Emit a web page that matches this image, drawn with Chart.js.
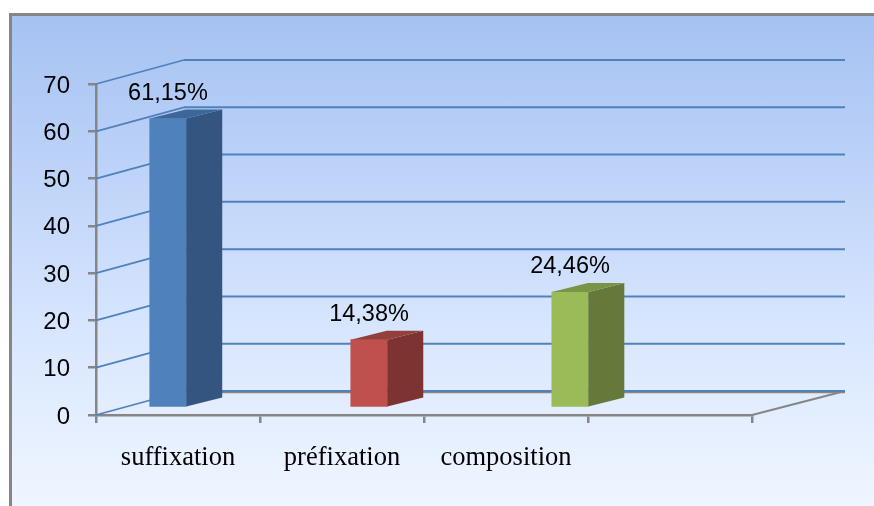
<!DOCTYPE html>
<html lang="fr">
<head>
<meta charset="utf-8">
<title>Formation des mots</title>
<style>
  html, body { margin: 0; padding: 0; background: #fff; }
  #panel {
    position: absolute; left: 9px; top: 13px; width: 865px; height: 493px;
    box-sizing: border-box;
    border-left: 3px solid #868686; border-top: 3px solid #868686;
    background: linear-gradient(180deg, #A6C2F2 0%, #BCD2F8 30%, #D6E5FE 62%, #F0F6FF 100%);
  }
  #stage { position: absolute; left: 0; top: 0; width: 874px; height: 506px; }
</style>
<script src="https://cdn.jsdelivr.net/npm/chart.js@4/dist/chart.umd.min.js"></script>
</head>
<body>
<div id="panel"></div>
<div id="stage"><canvas id="chart" width="874" height="506"></canvas></div>
<script>
// Word-formation shares, in percent
const categories = ['suffixation', 'préfixation', 'composition', ''];
const shares = [61.15, 14.38, 24.46];

const frontColors = ['#4F81BD', '#C0504D', '#9BBB59'];
const sideColors = ['#335580', '#7D3331', '#65793A'];
const topColors = ['#3D6798', '#933F3C', '#7A9447'];

const GRID_BLUE = '#4F81BD';
const AXIS_GREY = '#868686';

// Oblique projection of the chart box
const WALL_DX = 88;
const WALL_DY = 24;
const WALL_RIGHT_DX = 93;
const BAR_DX = 36;
const BAR_DY = 9;
const BAR_LIFT = 7.3;

const formatShare = v => v.toFixed(2).replace('.', ',') + '%';

const line = (ctx, x0, y0, x1, y1, color, width) => {
  ctx.strokeStyle = color;
  ctx.lineWidth = width;
  ctx.beginPath();
  ctx.moveTo(x0, y0);
  ctx.lineTo(x1, y1);
  ctx.stroke();
};

const face = (ctx, pts, color) => {
  ctx.fillStyle = color;
  ctx.beginPath();
  pts.forEach(([x, y], i) => (i ? ctx.lineTo(x, y) : ctx.moveTo(x, y)));
  ctx.closePath();
  ctx.fill();
};

// Back wall, side wall and floor edges, tied to the value scale
const wallPlugin = {
  id: 'walls',
  beforeDatasetsDraw(chart) {
    const { ctx, chartArea: a, scales: { y } } = chart;
    ctx.save();
    const backRight = a.right + WALL_RIGHT_DX;
    const floorY = y.getPixelForValue(0);
    line(ctx, a.right, floorY, backRight, floorY - WALL_DY, AXIS_GREY, 2.2);
    line(ctx, a.left + WALL_DX, floorY - WALL_DY + 1.5, backRight, floorY - WALL_DY + 1.5, AXIS_GREY, 1.5);
    y.ticks.forEach(t => {
      const py = y.getPixelForValue(t.value);
      line(ctx, a.left, py, a.left + WALL_DX, py - WALL_DY, GRID_BLUE, 1.8);
      line(ctx, a.left + WALL_DX, py - WALL_DY, backRight, py - WALL_DY, GRID_BLUE, 2);
    });
    ctx.restore();
    // Bars stand a little inside the floor
    ctx.save();
    ctx.translate(0, -BAR_LIFT);
  },
  afterDatasetsDraw(chart) {
    const { ctx } = chart;
    const bars = chart.getDatasetMeta(0).data;
    bars.forEach((bar, i) => {
      const { x, y, base, width } = bar.getProps(['x', 'y', 'base', 'width'], true);
      const l = x - width / 2, r = x + width / 2;
      face(ctx, [[r, y], [r + BAR_DX, y - BAR_DY], [r + BAR_DX, base - BAR_DY], [r, base]], sideColors[i]);
      face(ctx, [[l, y], [l + BAR_DX, y - BAR_DY], [r + BAR_DX, y - BAR_DY], [r, y]], topColors[i]);
    });
    ctx.restore();
    // Value captions above each front face
    ctx.save();
    ctx.font = '23.5px "Liberation Sans", Arial, sans-serif';
    ctx.fillStyle = '#000';
    ctx.textAlign = 'center';
    ctx.textBaseline = 'middle';
    bars.forEach((bar, i) => {
      const { x, y } = bar.getProps(['x', 'y'], true);
      ctx.fillText(formatShare(shares[i]), x, y - BAR_LIFT - 25.5);
    });
    ctx.restore();
  }
};

new Chart(document.getElementById('chart'), {
  type: 'bar',
  data: {
    labels: categories,
    datasets: [{
      data: shares.map((v, i) => ({ x: i, y: v })),
      xAxisID: 'xBars',
      yAxisID: 'y',
      backgroundColor: frontColors,
      borderWidth: 0,
      barThickness: 36.5
    }]
  },
  options: {
    responsive: false,
    animation: false,
    layout: { padding: { left: 0, right: 122, top: 84, bottom: 0 } },
    plugins: { legend: { display: false }, tooltip: { enabled: false } },
    scales: {
      // Bar positions run on their own hidden scale
      xBars: { type: 'linear', display: false, offset: false, min: -0.358, max: 2.905 },
      x: {
        type: 'category',
        labels: categories,
        offset: true,
        afterFit: s => { s.height = 91; },
        border: { display: true, color: AXIS_GREY, width: 2.5 },
        grid: { offset: true, drawOnChartArea: false, color: AXIS_GREY, lineWidth: 2.5, tickLength: 8 },
        ticks: {
          autoSkip: false, maxRotation: 0, padding: 19, color: '#000',
          font: { family: '"Liberation Serif", "Times New Roman", serif', size: 26.5 }
        }
      },
      y: {
        type: 'linear',
        min: 0,
        max: 70,
        afterFit: s => { s.width = 96; },
        border: { display: true, color: AXIS_GREY, width: 2.5 },
        grid: { drawOnChartArea: false, color: AXIS_GREY, lineWidth: 2.5, tickLength: 8 },
        ticks: {
          stepSize: 10, padding: 18, labelOffset: 2, color: '#000',
          font: { family: '"Liberation Sans", Arial, sans-serif', size: 24 }
        }
      }
    }
  },
  plugins: [wallPlugin]
});
</script>
</body>
</html>
